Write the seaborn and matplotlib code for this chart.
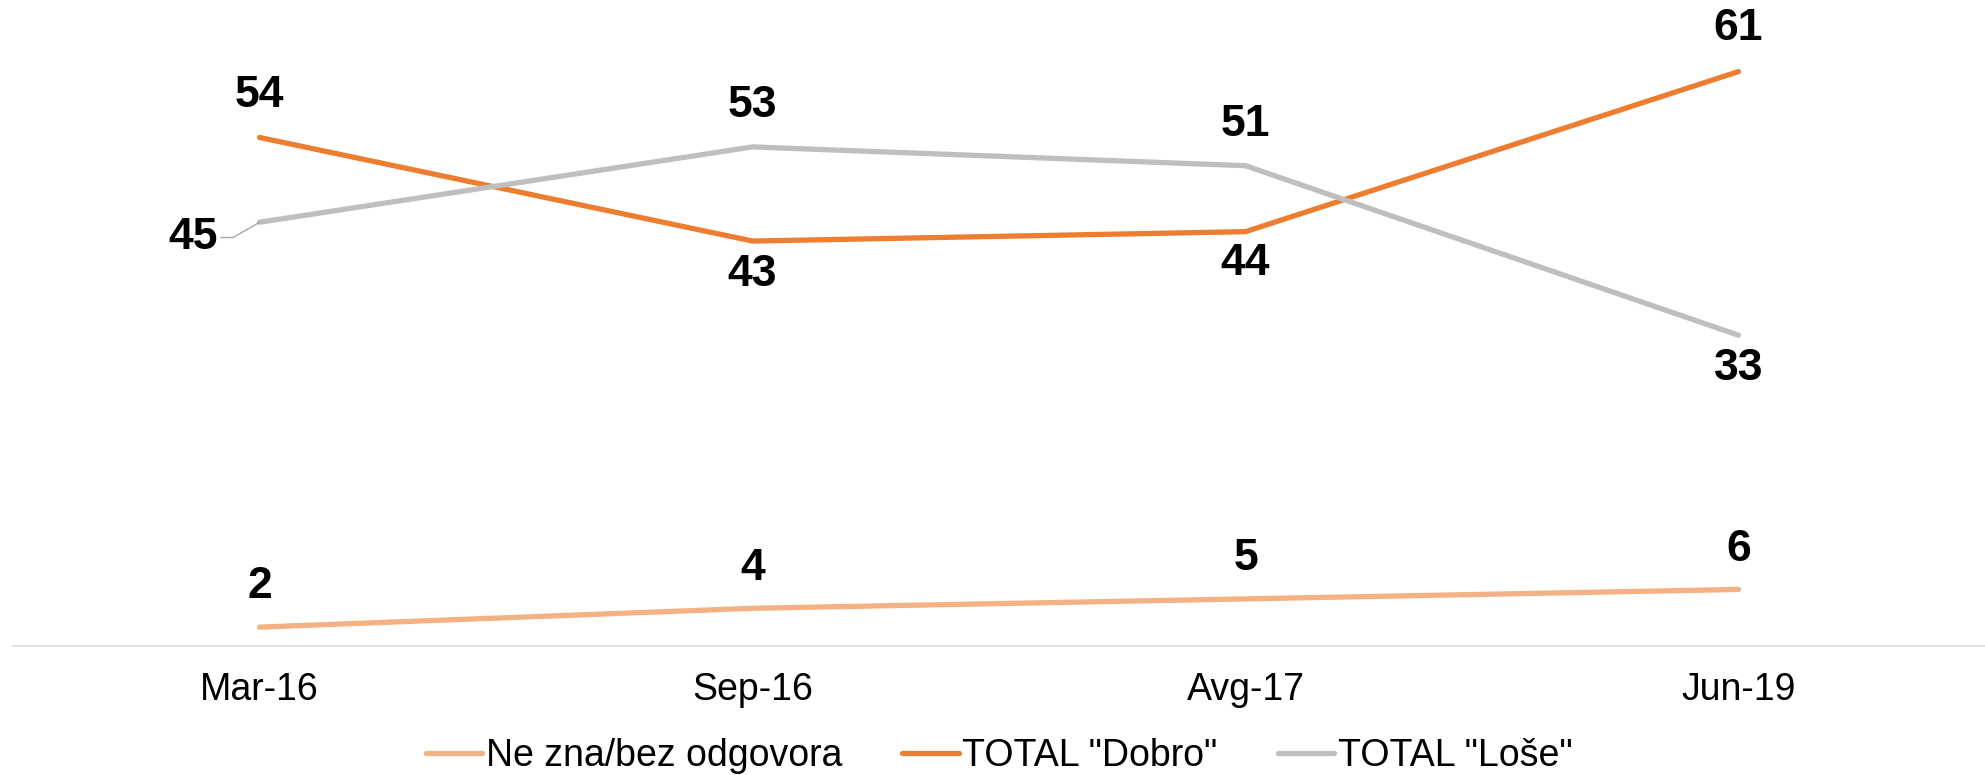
import matplotlib
matplotlib.use("Agg")
import matplotlib.pyplot as plt
import seaborn as sns
import pandas as pd

categories = ["Mar-16", "Sep-16", "Avg-17", "Jun-19"]
ne_zna = [2, 4, 5, 6]
dobro = [54, 43, 44, 61]
lose = [45, 53, 51, 33]

series_names = ["Ne zna/bez odgovora", 'TOTAL "Dobro"', 'TOTAL "Loše"']
series_values = [ne_zna, dobro, lose]
colors = ["#F4B183", "#ED7D31", "#BFBFBF"]

rows = []
for name, vals in zip(series_names, series_values):
    for i, (c, v) in enumerate(zip(categories, vals)):
        rows.append({"pos": i, "cat": c, "series": name, "value": v})
df = pd.DataFrame(rows)

sns.set_theme(style="white")
plt.rcParams["font.family"] = ["Liberation Sans", "DejaVu Sans"]
plt.rcParams["text.color"] = "black"

fig = plt.figure(figsize=(19.85, 7.75), dpi=100)
ax = fig.add_axes([0.0066, 0.1665, 0.9934, 0.8335])

sns.lineplot(data=df, x="pos", y="value", hue="series", hue_order=series_names,
             palette=colors, linewidth=3.8, ax=ax, legend=True, sort=False)

ax.set_xlim(-0.5, 3.5)
ax.set_ylim(0, 68.6)
ax.set_xticks(range(len(categories)))
ax.set_xticklabels(categories, fontsize=27, color="#000000")
ax.tick_params(axis="x", length=0, pad=19)
ax.set_yticks([])
ax.set_xlabel("")
ax.set_ylabel("")
for s in ["top", "left", "right"]:
    ax.spines[s].set_visible(False)
ax.spines["bottom"].set_color("#D9D9D9")
ax.spines["bottom"].set_linewidth(1.2)

lab_kw = dict(fontsize=32, fontweight="bold", color="black", ha="center", va="center")
# Ne zna: all above
for i, v in enumerate(ne_zna):
    ax.annotate(str(v), (i, v), xytext=(0, 29), textcoords="offset points", **lab_kw)
# Dobro
dobro_off = [(0, 30), (0, -24), (0, -23), (0, 31)]
for i, v in enumerate(dobro):
    ax.annotate(str(v), (i, v), xytext=dobro_off[i], textcoords="offset points", **lab_kw)
# Lose
lose_off = [None, (0, 30), (0, 30), (0, -24)]
for i, v in enumerate(lose):
    if i == 0:
        ax.annotate(str(v), (i, v), xytext=(-48, -11), textcoords="offset points",
                    arrowprops=dict(arrowstyle="-", color="#A6A6A6", lw=1,
                                    shrinkA=0, shrinkB=0,
                                    connectionstyle="angle,angleA=0,angleB=30,rad=0"),
                    **lab_kw)
    else:
        ax.annotate(str(v), (i, v), xytext=lose_off[i], textcoords="offset points", **lab_kw)

leg = ax.legend(loc="center", bbox_to_anchor=(0.5, -0.171), ncol=3, frameon=False,
                fontsize=27, handlelength=1.5, columnspacing=1.6, handletextpad=0.1,
                borderaxespad=0, borderpad=0, labelcolor="black")
for line in leg.get_lines():
    line.set_linewidth(3.8)

fig.savefig("out.png", dpi=100)
